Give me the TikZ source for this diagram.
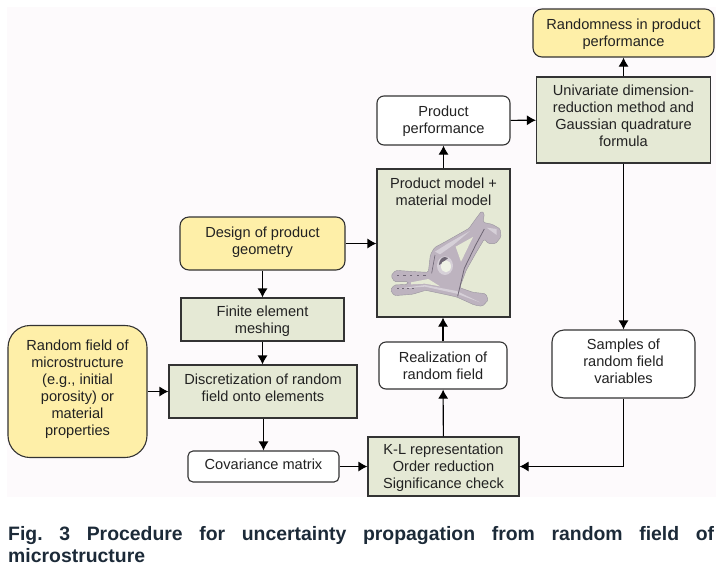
\documentclass[tikz,border=0pt]{standalone}
\usepackage{fontspec}
\setmainfont{Liberation Sans}
\usetikzlibrary{arrows.meta}
\definecolor{paperbg}{HTML}{FDFAFC}
\definecolor{boxyellow}{HTML}{FEEFA8}
\definecolor{boxgreen}{HTML}{E5E9D5}
\definecolor{boxline}{HTML}{333333}
\definecolor{boxtext}{HTML}{222222}
\definecolor{captiontext}{HTML}{1C2A38}
\definecolor{partlight}{HTML}{BDB3BF}
\definecolor{partpale}{HTML}{D6D0D8}
\definecolor{partdark}{HTML}{6E6674}
\tikzset{
	basebox/.style={draw=boxline, line width=1.1pt, inner sep=0pt, align=center, text=boxtext,
		font=\fontsize{14.6}{17}\selectfont},
	greenbox/.style={basebox, fill=boxgreen},
	whitebox/.style={basebox, fill=white, rounded corners=7pt},
	yellowbox/.style={basebox, fill=boxyellow, rounded corners=9pt},
	flow/.style={-{Latex[length=9pt,width=10pt]}, line width=1.1pt, draw=black},
}
\begin{document}
\begin{tikzpicture}[x=1pt, y=-1pt]
	\useasboundingbox (0,0) rectangle (721,574);
	\fill[paperbg] (7,7) rectangle (716,497);

	% Boxes
	\node[yellowbox, text height=29.6pt, minimum width=181pt, minimum height=48pt] (randomness) at (623.5,33) {Randomness in product\\performance};
	\node[greenbox, text depth=9pt, minimum width=174pt, minimum height=86pt] (univariate) at (623.5,120) {Univariate dimension-\\reduction method and\\Gaussian quadrature\\formula};
	\node[whitebox, text height=29.6pt, minimum width=133pt, minimum height=49pt] (performance) at (443.5,120.5) {Product\\performance};
	\node[greenbox, minimum width=133pt, minimum height=148pt] (model) at (443.5,243) {};
	\node[basebox, draw=none, anchor=north] (modellabel) at (443.5,177) {Product model +\\material model};
	\node[yellowbox, text depth=5pt, minimum width=165pt, minimum height=53pt] (design) at (262.5,243.5) {Design of product\\geometry};
	\node[greenbox, text height=31.6pt, minimum width=163pt, minimum height=43pt] (meshing) at (262.5,319.5) {Finite element\\meshing};
	\node[yellowbox, text depth=7pt, rounded corners=22pt, minimum width=139pt, minimum height=132pt] (field) at (77.5,391.5) {Random field of\\microstructure\\(e.g., initial\\porosity) or\\material\\properties};
	\node[greenbox, text depth=7pt, minimum width=188pt, minimum height=53pt] (discrete) at (263,391.5) {Discretization of random\\field onto elements};
	\node[whitebox, text depth=4pt, rounded corners=5pt, minimum width=151pt, minimum height=31pt] (covariance) at (263.5,466.5) {Covariance matrix};
	\node[greenbox, text height=46.6pt, minimum width=151pt, minimum height=59pt] (reduction) at (443.5,466.5) {K-L representation\\Order reduction\\Significance check};
	\node[whitebox, minimum width=128pt, minimum height=47pt] (realization) at (443,365.5) {Realization of\\random field};
	\node[whitebox, text depth=5pt, rounded corners=12pt, minimum width=143pt, minimum height=68pt] (samples) at (623.5,364) {Samples of\\random field\\variables};

	% Part
	\begin{scope}[shift={(385,205)}, x=0.3333pt, y=-0.3333pt]
	\filldraw[fill=partlight, draw=partdark!70, line width=0.4pt, rounded corners=1.5pt]
		(290,18) -- (298,26) -- (294,52) -- (322,58) -- (346,72) -- (348,96) -- (332,116) -- (310,116) -- (298,102)
		-- (274,142) -- (244,195) -- (224,248) -- (264,262) -- (302,266) -- (310,285) -- (292,304) -- (268,300)
		-- (215,276) -- (170,266) -- (122,256) -- (82,268) -- (28,272) -- (16,255) -- (28,240) -- (68,238) -- (70,230)
		-- (28,230) -- (18,212) -- (32,196) -- (90,200) -- (130,202) -- (136,150) -- (148,128) -- (185,108) -- (252,70) -- (272,42) -- cycle;
	% openings
	\fill[boxgreen] (212,125) -- (264,96) -- (228,170) -- cycle;
	\fill[boxgreen] (78,232) -- (130,222) -- (165,244) -- (120,236) -- (78,238) -- cycle;
	% shading
	\fill[partpale] (150,140) -- (188,116) -- (255,78) -- (205,120) -- (165,148) -- cycle;
	\fill[partpale] (30,252) -- (120,245) -- (215,266) -- (285,292) -- (215,258) -- (120,240) -- cycle;
	\fill[partpale] (305,68) -- (335,72) -- (335,90) -- cycle;
	\draw[partdark, line width=0.8pt] (218,274) -- (238,190) -- (272,120) -- (298,72);
	\draw[partdark, line width=0.6pt] (140,205) -- (150,150);
	\foreach \x in {35,55,...,115}
	{
	\fill[partdark] (\x,209) rectangle (\x+7,213);
	}
	\foreach \x in {35,50,...,80}
	{
	\fill[partdark] (\x,250) rectangle (\x+6,253);
	}
	\fill[partpale] (180,182) ellipse (24 and 28);
	\fill[partdark] (162,180) arc (180:300:18 and 24) -- (172,175) -- cycle;
	\fill[boxgreen!60!white] (183,184) ellipse (15 and 18);
	\end{scope}

	% Connections
	\draw[flow] (univariate) -- (randomness);
	\draw[flow] (performance) -- (univariate);
	\draw[flow] (model) -- (performance);
	\draw[flow] (design) -- (model.west |- design);
	\draw[flow] (design) -- (meshing);
	\draw[flow] (meshing) -- (discrete.north -| meshing);
	\draw[flow] (field) -- (discrete);
	\draw[flow] (discrete.south -| covariance) -- (covariance);
	\draw[flow] (covariance) -- (reduction);
	\draw[flow] (reduction) -- (realization);
	\draw[flow] (realization) -- (model.south -| realization);
	\draw[flow] (univariate) -- (samples);
	\draw[flow] (samples.south) |- (reduction.east);

	% Caption
	\node[anchor=north west, inner sep=0pt, text width=706pt, align=justify, text=captiontext,
		font=\fontsize{19.4}{22}\selectfont\bfseries] (caption) at (8,526)
		{Fig.~3 Procedure for uncertainty propagation from random field of\linebreak microstructure};
\end{tikzpicture}
\end{document}
